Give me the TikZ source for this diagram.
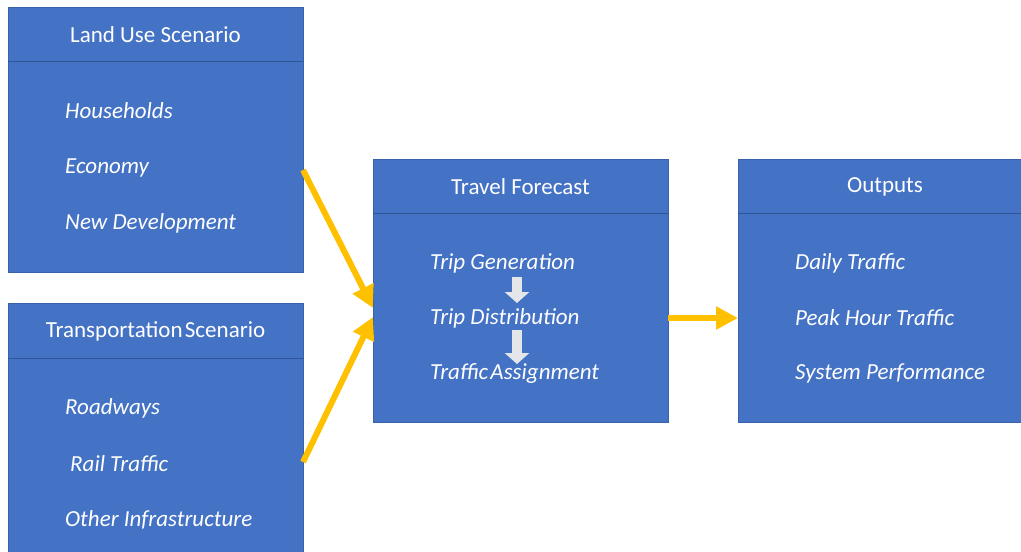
\documentclass[tikz,border=0pt]{standalone}
\usepackage{fontspec}
\setmainfont{Carlito}
\usetikzlibrary{arrows.meta,calc}
\definecolor{boxblue}{HTML}{4472C4}
\definecolor{boxline}{HTML}{2F5597}
\definecolor{arrowyel}{HTML}{FFC000}
\definecolor{arrowwht}{HTML}{E4E6EA}
\begin{document}
\begin{tikzpicture}[x=1pt,y=-1pt,
  bluebox/.style={fill=boxblue,draw=boxline!60!boxblue,line width=0.8pt,anchor=north west,inner sep=0pt,outer sep=0pt},
  headtxt/.style={text=white,font=\fontsize{23}{27}\selectfont,anchor=center},
  itemtxt/.style={text=white,font=\fontsize{23}{27}\selectfont\itshape,anchor=west,inner sep=0pt},
  divline/.style={draw=boxline,line width=1pt},
  yarrow/.style={draw=arrowyel,line width=6pt,-{Triangle[length=22pt,width=22pt]}},
  warrow/.style={draw=arrowwht,line width=10pt,-{Triangle[length=11pt,width=24pt]}}]
\useasboundingbox (0,0) rectangle (1021,552);
\fill[white] (0,0) rectangle (1021,552);
% boxes
\node[bluebox,minimum width=295pt,minimum height=265pt] (LU) at (8,7) {};
\node[bluebox,minimum width=295pt,minimum height=252pt] (TS) at (8,303) {};
\node[bluebox,minimum width=295pt,minimum height=263pt] (TF) at (373,159) {};
\node[bluebox,minimum width=290pt,minimum height=263pt] (OUT) at (738,159) {};
% dividers
\draw[divline] ($(LU.north west)+(0,54)$) coordinate (lua) -- ($(LU.north east)+(0,54)$) coordinate (lub);
\draw[divline] ($(TS.north west)+(0,55)$) coordinate (tsa) -- ($(TS.north east)+(0,55)$) coordinate (tsb);
\draw[divline] ($(TF.north west)+(0,54)$) coordinate (tfa) -- ($(TF.north east)+(0,54)$) coordinate (tfb);
\draw[divline] ($(OUT.north west)+(0,54)$) coordinate (oua) -- (1021,213) coordinate (oub);
% titles
\node[headtxt] (luh) at (155.5,35) {Land Use Scenario};
\node[headtxt] (tsh) at (155.5,331) {Transportation\hspace{0.1em}Scenario};
\node[headtxt] (tfh) at (520.5,187) {Travel Forecast};
\node[headtxt] (ouh) at (885,187) {Outputs};
% items
\node[itemtxt] (hh) at (65,111) {Households};
\node[itemtxt] (ec) at (65,168) {Economy};
\node[itemtxt] (nd) at (65,223) {New Development};
\node[itemtxt] (rw) at (65,408) {Roadways};
\node[itemtxt] (rt) at (70,464) {Rail Traffic};
\node[itemtxt] (oi) at (65,520) {Other Infrastructure};
\node[itemtxt] (tg) at (430,263) {Trip Generation};
\node[itemtxt] (td) at (430,318) {Trip Distribution};
\node[itemtxt] (ta) at (430,373) {Traffic\hspace{0.1em}Assignment};
\node[itemtxt] (dt) at (795,263) {Daily Traffic};
\node[itemtxt] (ph) at (795,318) {Peak Hour Traffic};
\node[itemtxt] (sp) at (795,373) {System Performance};
% white arrows
\coordinate (w1a) at (517,277);
\coordinate (w1b) at (517,303);
\coordinate (w2a) at (517,330);
\coordinate (w2b) at (517,364);
\draw[warrow] (w1a) -- (w1b);
\draw[warrow] (w2a) -- (w2b);
% yellow arrows
\coordinate (y1a) at ($(LU.north east)+(0,163)$);
\coordinate (y1b) at ($(TF.north west)+(0,149)$);
\coordinate (y2a) at ($(TS.north east)+(0,159)$);
\coordinate (y2b) at ($(TF.north west)+(0,158)$);
\coordinate (y3a) at ($(TF.north east)+(0,159)$);
\coordinate (y3b) at ($(OUT.north west)+(0,159)$);
\draw[yarrow] (y1a) -- (y1b);
\draw[yarrow] (y2a) -- (y2b);
\draw[yarrow] (y3a) -- (y3b);
\end{tikzpicture}
\end{document}
